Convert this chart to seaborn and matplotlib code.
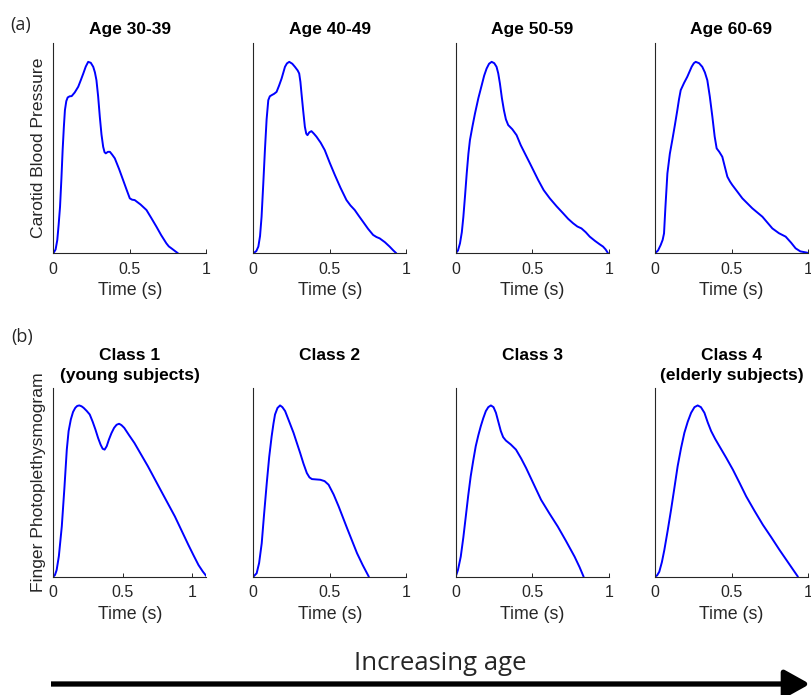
import numpy as np
import pandas as pd
import matplotlib
matplotlib.use("Agg")
import matplotlib.pyplot as plt
import seaborn as sns

# ---------------- data ----------------
age_titles = ["Age 30-39", "Age 40-49", "Age 50-59", "Age 60-69"]
class_titles = ["Class 1\n(young subjects)", "Class 2\n ", "Class 3\n ", "Class 4\n(elderly subjects)"]

age30_t = [0, 0.015, 0.026, 0.035, 0.044, 0.053, 0.061, 0.069, 0.076, 0.085, 0.094, 0.107, 0.12, 0.14,
           0.163, 0.18, 0.196, 0.212, 0.228, 0.245, 0.261, 0.272, 0.282, 0.293, 0.304, 0.315, 0.326,
           0.335, 0.343, 0.357, 0.37, 0.385, 0.402, 0.43, 0.456, 0.48, 0.5, 0.515, 0.532, 0.57, 0.609,
           0.64, 0.674, 0.705, 0.739, 0.755, 0.772, 0.795, 0.815]
age30_p = [0, 0.02, 0.069, 0.15, 0.243, 0.39, 0.539, 0.66, 0.748, 0.795, 0.814, 0.82, 0.821, 0.84,
           0.87, 0.905, 0.939, 0.975, 1.0, 0.995, 0.974, 0.945, 0.904, 0.82, 0.713, 0.62, 0.556,
           0.528, 0.522, 0.53, 0.53, 0.515, 0.496, 0.44, 0.383, 0.33, 0.287, 0.28, 0.278, 0.255, 0.226,
           0.185, 0.139, 0.095, 0.052, 0.036, 0.026, 0.012, 0]

age40_t = [0, 0.02, 0.033, 0.044, 0.054, 0.065, 0.076, 0.087, 0.098, 0.108, 0.12, 0.136, 0.152, 0.168,
           0.185, 0.207, 0.22, 0.235, 0.255, 0.272, 0.29, 0.3, 0.308, 0.315, 0.326, 0.337, 0.346,
           0.354, 0.366, 0.38, 0.396, 0.413, 0.44, 0.467, 0.5, 0.533, 0.57, 0.609, 0.635, 0.663, 0.69,
           0.717, 0.75, 0.783, 0.805, 0.826, 0.86, 0.891, 0.915, 0.935]
age40_p = [0, 0.012, 0.035, 0.09, 0.19, 0.36, 0.54, 0.7, 0.8, 0.82, 0.826, 0.833, 0.843, 0.875,
           0.913, 0.974, 0.992, 1.0, 0.99, 0.974, 0.955, 0.939, 0.895, 0.835, 0.745, 0.661, 0.625,
           0.617, 0.632, 0.638, 0.625, 0.609, 0.578, 0.539, 0.472, 0.409, 0.342, 0.278, 0.25, 0.226, 0.195,
           0.165, 0.128, 0.096, 0.085, 0.078, 0.058, 0.035, 0.015, 0]

age50_t = [0, 0.015, 0.028, 0.04, 0.05, 0.061, 0.072, 0.083, 0.093, 0.11, 0.126, 0.148, 0.17, 0.186,
           0.202, 0.218, 0.235, 0.252, 0.267, 0.278, 0.289, 0.302, 0.315, 0.328, 0.343, 0.37, 0.398,
           0.425, 0.452, 0.485, 0.539, 0.575, 0.615, 0.66, 0.702, 0.735, 0.767, 0.795, 0.822, 0.85,
           0.876, 0.91, 0.941, 0.963, 0.98, 0.996]
age50_p = [0, 0.015, 0.052, 0.11, 0.19, 0.3, 0.417, 0.52, 0.591, 0.665, 0.73, 0.81, 0.878, 0.928,
           0.965, 0.99, 1.0, 0.993, 0.974, 0.94, 0.887, 0.81, 0.748, 0.7, 0.67, 0.648, 0.617,
           0.565, 0.522, 0.47, 0.383, 0.33, 0.287, 0.245, 0.209, 0.18, 0.157, 0.14, 0.13, 0.11,
           0.087, 0.065, 0.047, 0.035, 0.02, 0]

age60_t = [0, 0.02, 0.037, 0.05, 0.059, 0.068, 0.081, 0.097, 0.113, 0.13, 0.146, 0.157, 0.168, 0.19,
           0.211, 0.24, 0.254, 0.266, 0.288, 0.309, 0.326, 0.342, 0.358, 0.375, 0.39, 0.403, 0.42,
           0.44, 0.457, 0.473, 0.49, 0.505, 0.54, 0.571, 0.636, 0.702, 0.735, 0.767, 0.81, 0.854,
           0.89, 0.919, 0.95, 0.996]
age60_p = [0, 0.015, 0.043, 0.07, 0.104, 0.24, 0.417, 0.52, 0.591, 0.67, 0.748, 0.805, 0.852, 0.89,
           0.922, 0.975, 0.993, 1.0, 0.993, 0.974, 0.945, 0.904, 0.82, 0.713, 0.61, 0.548, 0.53,
           0.504, 0.45, 0.4, 0.375, 0.357, 0.32, 0.287, 0.235, 0.191, 0.16, 0.13, 0.105, 0.087,
           0.055, 0.026, 0.01, 0.003]

class1_t = [0, 0.012, 0.024, 0.04, 0.061, 0.08, 0.097, 0.11, 0.126, 0.142, 0.158, 0.172, 0.187, 0.203,
            0.218, 0.24, 0.262, 0.283, 0.303, 0.322, 0.34, 0.355, 0.369, 0.384, 0.4, 0.418, 0.437,
            0.455, 0.473, 0.49, 0.51, 0.545, 0.583, 0.63, 0.68, 0.777, 0.874, 0.971, 1.01, 1.044,
            1.075, 1.104]
class1_p = [0, 0.01, 0.039, 0.12, 0.293, 0.52, 0.742, 0.85, 0.918, 0.962, 0.986, 0.997, 1.0, 0.995,
            0.986, 0.968, 0.947, 0.905, 0.859, 0.81, 0.771, 0.747, 0.742, 0.762, 0.801, 0.838, 0.869,
            0.887, 0.893, 0.885, 0.869, 0.826, 0.781, 0.715, 0.645, 0.498, 0.352, 0.186, 0.122, 0.068,
            0.03, 0]

class2_t = [0, 0.022, 0.038, 0.055, 0.07, 0.088, 0.104, 0.12, 0.132, 0.142, 0.158, 0.175, 0.19, 0.208,
            0.235, 0.263, 0.285, 0.306, 0.328, 0.35, 0.367, 0.383, 0.41, 0.438, 0.466, 0.492, 0.525,
            0.558, 0.613, 0.678, 0.715, 0.755]
class2_p = [0, 0.02, 0.08, 0.195, 0.36, 0.547, 0.7, 0.82, 0.895, 0.947, 0.985, 1.0, 0.99, 0.967,
            0.905, 0.84, 0.78, 0.723, 0.66, 0.605, 0.58, 0.57, 0.568, 0.566, 0.558, 0.537, 0.48,
            0.41, 0.283, 0.137, 0.068, 0]

class3_t = [0, 0.015, 0.033, 0.05, 0.066, 0.082, 0.098, 0.115, 0.131, 0.148, 0.164, 0.18, 0.197, 0.213,
            0.23, 0.247, 0.263, 0.28, 0.295, 0.31, 0.328, 0.36, 0.394, 0.428, 0.46, 0.51, 0.558, 0.612,
            0.667, 0.72, 0.777, 0.81, 0.836]
class3_p = [0, 0.04, 0.117, 0.23, 0.352, 0.475, 0.586, 0.68, 0.762, 0.826, 0.879, 0.925, 0.967, 0.99,
            1.0, 0.99, 0.957, 0.9, 0.85, 0.815, 0.795, 0.772, 0.742, 0.69, 0.635, 0.54, 0.449, 0.37,
            0.293, 0.21, 0.117, 0.055, 0]

class4_t = [0, 0.014, 0.028, 0.045, 0.061, 0.083, 0.105, 0.127, 0.148, 0.17, 0.192, 0.214, 0.236, 0.258,
            0.279, 0.3, 0.323, 0.345, 0.367, 0.393, 0.421, 0.465, 0.509, 0.553, 0.596, 0.65, 0.705,
            0.76, 0.814, 0.874, 0.934]
class4_p = [0, 0.008, 0.029, 0.085, 0.156, 0.27, 0.391, 0.52, 0.645, 0.75, 0.84, 0.905, 0.957, 0.99,
            1.0, 0.99, 0.957, 0.9, 0.85, 0.805, 0.762, 0.695, 0.625, 0.547, 0.469, 0.385, 0.303,
            0.23, 0.156, 0.078, 0]

x_ticks = [0, 0.5, 1]
x_tick_labels = ["0", "0.5", "1"]
age_xmax = [1.0, 1.0, 1.0, 1.0]
class_xmax = [1.1, 1.0, 1.0, 1.0]

# ---------------- style ----------------
sns.set_theme(style="ticks")
plt.rcParams["font.family"] = ["Liberation Sans", "DejaVu Sans"]
spine_col = "#262626"

fig = plt.figure(figsize=(8.11, 6.95), dpi=100)
W, H = 811.0, 695.0
lefts = [53.3, 253.3, 455.7, 655.0]
ax_w = 153.0
rows = [(42.7, 253.3), (388.3, 576.7)]

top_series = [(age30_t, age30_p), (age40_t, age40_p), (age50_t, age50_p), (age60_t, age60_p)]
bot_series = [(class1_t, class1_p), (class2_t, class2_p), (class3_t, class3_p), (class4_t, class4_p)]


def style_axis(ax, xmax, title, ylabel=None):
    ax.set_xlim(0, xmax)
    ax.set_ylim(0, 1.1)
    ax.set_xticks(x_ticks)
    ax.set_xticklabels(x_tick_labels)
    ax.set_yticks([])
    ax.set_xlabel("Time (s)", fontsize=12.8, color=spine_col, labelpad=4)
    ax.set_ylabel(ylabel if ylabel else "", fontsize=12.6, color=spine_col, labelpad=5)
    ax.set_title(title, fontsize=12.5, fontweight="bold", color="black", pad=6,
                 linespacing=1.45)
    ax.tick_params(axis="x", direction="in", length=3, width=0.7, labelsize=11.5,
                   colors=spine_col, pad=6)
    for s in ["top", "right"]:
        ax.spines[s].set_visible(False)
    for s in ["left", "bottom"]:
        ax.spines[s].set_color(spine_col)
        ax.spines[s].set_linewidth(0.8)


for r, (series, titles, xmaxes, ylab) in enumerate([
        (top_series, age_titles, age_xmax, "Carotid Blood Pressure"),
        (bot_series, class_titles, class_xmax, "Finger Photoplethysmogram")]):
    ytop, ybot = rows[r]
    for i in range(4):
        ax = fig.add_axes([lefts[i] / W, 1 - ybot / H, ax_w / W, (ybot - ytop) / H])
        t, p = series[i]
        df = pd.DataFrame({"t": t, "p": p})
        sns.lineplot(data=df, x="t", y="p", ax=ax, color="blue", linewidth=1.4, sort=False,
                     solid_joinstyle="round", solid_capstyle="round")
        style_axis(ax, xmaxes[i], titles[i], ylab if i == 0 else None)

# panel letters
fig.text(21 / W, 1 - 25 / H, "(a)", fontsize=13, family=["Open Sans", "DejaVu Sans"],
         ha="center", va="center")
fig.text(22 / W, 1 - 337 / H, "(b)", fontsize=13, family=["Open Sans", "DejaVu Sans"],
         ha="center", va="center")

# increasing age arrow
fig.text(440 / W, 1 - 663 / H, "Increasing age", fontsize=18.5, family=["Open Sans", "DejaVu Sans"],
         ha="center", va="center")
fig.add_artist(matplotlib.patches.FancyArrowPatch(
    (51 / W, 1 - 684 / H), (810 / W, 1 - 684 / H), transform=fig.transFigure,
    arrowstyle="-|>,head_length=9,head_width=5", mutation_scale=1.7,
    linewidth=3.8, color="black", shrinkA=0, shrinkB=0, capstyle="butt"))

fig.savefig("out.png", dpi=100)
